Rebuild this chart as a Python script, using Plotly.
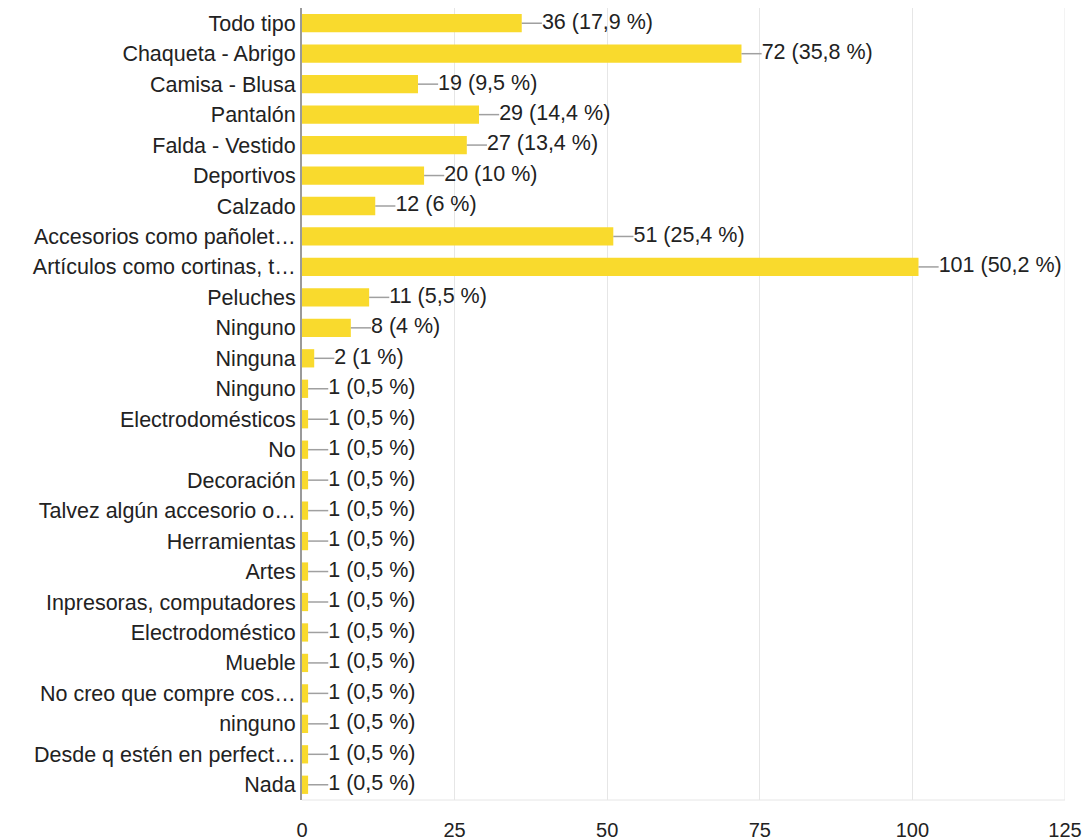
import plotly.graph_objects as go

categories = [
    "Todo tipo", "Chaqueta - Abrigo", "Camisa - Blusa", "Pantalón", "Falda - Vestido",
    "Deportivos", "Calzado", "Accesorios como pañolet…", "Artículos como cortinas, t…",
    "Peluches", "Ninguno", "Ninguna", "Ninguno", "Electrodomésticos", "No", "Decoración",
    "Talvez algún accesorio o…", "Herramientas", "Artes", "Inpresoras, computadores",
    "Electrodoméstico", "Mueble", "No creo que compre cos…", "ninguno",
    "Desde q estén en perfect…", "Nada",
]
counts = [36, 72, 19, 29, 27, 20, 12, 51, 101, 11, 8, 2, 1, 1, 1, 1, 1, 1, 1, 1, 1, 1, 1, 1, 1, 1]
percents = ["17,9", "35,8", "9,5", "14,4", "13,4", "10", "6", "25,4", "50,2", "5,5", "4", "1",
            "0,5", "0,5", "0,5", "0,5", "0,5", "0,5", "0,5", "0,5", "0,5", "0,5", "0,5", "0,5",
            "0,5", "0,5"]
x_ticks = [0, 25, 50, 75, 100, 125]

FONT = "Liberation Sans, Arial, sans-serif"
FS = 21.5
BAR = "#F9DA2D"
TXT = "#222222"

ypos = list(range(len(categories)))
LEAD = 3.3

fig = go.Figure()
fig.add_trace(go.Bar(
    x=counts, y=ypos, orientation="h", marker=dict(color=BAR, line=dict(width=0)),
    width=0.6, hoverinfo="skip",
))

lx, ly = [], []
for v, y in zip(counts, ypos):
    lx += [v, v + LEAD, None]
    ly += [y, y, None]
fig.add_trace(go.Scatter(x=lx, y=ly, mode="lines", line=dict(color="#a0a0a0", width=1.5),
                         hoverinfo="skip", cliponaxis=False))
fig.add_trace(go.Scatter(
    x=[v + LEAD for v in counts], y=ypos, mode="text",
    text=[f"{c} ({p} %)" for c, p in zip(counts, percents)],
    textposition="middle right", textfont=dict(family=FONT, size=FS, color=TXT),
    hoverinfo="skip", cliponaxis=False,
))

fig.update_layout(
    width=1091, height=840, showlegend=False,
    plot_bgcolor="white", paper_bgcolor="white",
    margin=dict(l=294, r=34, t=0, b=48, autoexpand=False),
    font=dict(family=FONT, size=FS, color=TXT),
)
fig.update_xaxes(range=[0, 125], tickvals=x_ticks, showgrid=True, gridcolor="#e6e6e6",
                 gridwidth=1, zeroline=False, showline=False, ticks="",
                 ticklabelstandoff=16,
                 tickfont=dict(family=FONT, size=20, color=TXT))
fig.update_yaxes(range=[len(categories) - 0.5, -0.5], tickvals=ypos, ticktext=categories,
                 showgrid=False, zeroline=False, showline=True, linecolor="#9a9a9a",
                 linewidth=2, ticks="", ticklabelstandoff=0,
                 tickfont=dict(family=FONT, size=FS, color=TXT))
fig.add_shape(type="line", xref="x", yref="paper", x0=125, x1=125, y0=0, y1=1,
              line=dict(color="#e6e6e6", width=1))
fig.add_shape(type="line", xref="paper", yref="paper", x0=0, x1=1, y0=0, y1=0,
              line=dict(color="#e6e6e6", width=1))

fig.write_html("out.html")
